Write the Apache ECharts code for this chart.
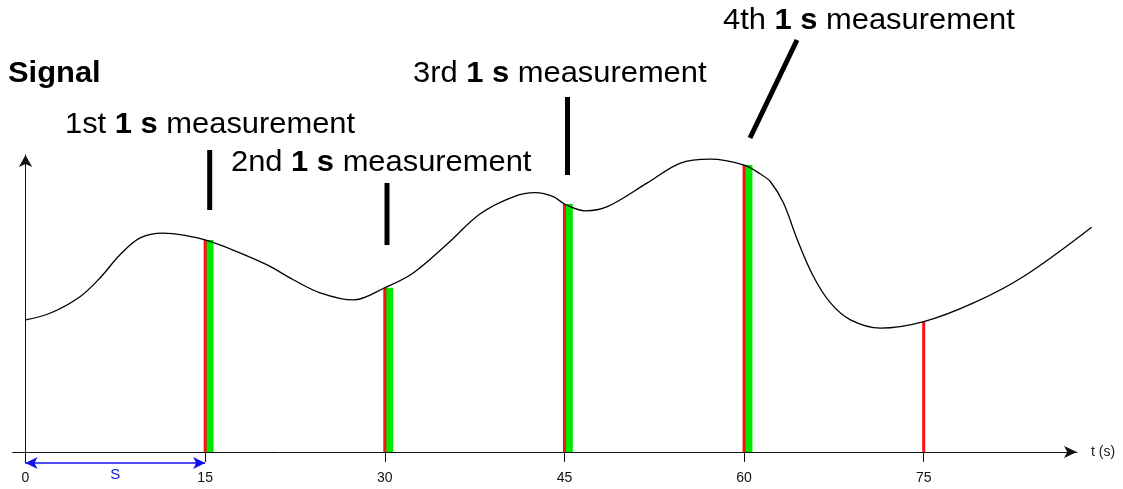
<!DOCTYPE html>
<html>
<head>
<meta charset="utf-8">
<script src="https://cdn.jsdelivr.net/npm/echarts@6/dist/echarts.min.js"></script>
<style>
  html, body { margin: 0; padding: 0; background: #fff; }
  #chart { width: 1123px; height: 489px; }
</style>
</head>
<body>
<div id="chart"></div>
<script>
// signal curve (t in s, signal in arbitrary units)
const sampleT = [0, 2.09, 4.55, 6.22, 7.89, 9.57, 11.49, 13.49, 15, 17.33, 20.18, 22.35, 24.6, 27.36, 30,
  32.37, 35.21, 37.97, 40.73, 42.57, 44.07, 45, 46.74, 48.58, 51.92, 54.68, 57.19, 60,
  61.36, 62.2, 63.28, 64.45, 65.79, 67.21, 68.88, 71.39, 75, 79.16, 83.33, 89.02]
const signal = [44.5, 46.8, 52.3, 58.6, 66.4, 72.1, 73.7, 72.8, 71.4, 68.0, 63.0, 58.0, 53.6, 51.2, 55.3,
  60.3, 70.0, 80.2, 85.9, 87.3, 86.0, 83.5, 81.2, 82.6, 90.6, 97.3, 98.6, 96.6,
  93.6, 91.0, 83.9, 71.4, 59.1, 50.2, 44.5, 41.7, 43.9, 50.2, 59.1, 75.7]

// sample instants (red) and the 1 s measurement windows (green)
const markT = [15, 30, 45, 60, 75]
const markV = [71.4, 55.3, 83.5, 96.6, 43.9]
const windowStart = [15, 30, 45, 60]
const windowEnd = [15.7, 30.7, 45.7, 60.7]
const windowV = [71.4, 55.3, 83.5, 96.6]

const tickValues = [0, 15, 30, 45, 60, 75]
const spanS = [0, 15]   // the "S" interval under the axis

const FONT = "'Liberation Sans', Arial, sans-serif"
const chart = echarts.init(document.getElementById('chart'))

const annotations = [
  { text: '1st {b|1 s} measurement', x: 65, y: 125, line: [209.7, 150, 209.7, 210] },
  { text: '2nd {b|1 s} measurement', x: 231, y: 163, line: [387, 183, 387, 245] },
  { text: '3rd {b|1 s} measurement', x: 413, y: 74, line: [567.5, 97, 567.5, 175] },
  { text: '4th {b|1 s} measurement', x: 723, y: 21, line: [797, 40, 750, 138] }
]

const graphic = [{
  type: 'text',
  x: 8,
  y: 73.5,
  scaleX: 1.065,
  style: { text: 'Signal', font: 'bold 29px ' + FONT, fill: '#000', verticalAlign: 'middle' }
}]
annotations.forEach(a => {
  graphic.push({
    type: 'text',
    x: a.x,
    y: a.y,
    scaleX: 1.065,
    style: {
      text: a.text,
      fontSize: 29,
      fontFamily: FONT,
      fill: '#000',
      verticalAlign: 'middle',
      rich: { b: { fontSize: 29, fontFamily: FONT, fontWeight: 'bold', fill: '#000' } }
    }
  })
  graphic.push({
    type: 'line',
    shape: { x1: a.line[0], y1: a.line[1], x2: a.line[2], y2: a.line[3] },
    style: { stroke: '#000', lineWidth: 5 }
  })
})

const yRange = { min: -3.7, max: 100 }

const option = {
  animation: false,
  backgroundColor: '#fff',
  grid: [
    { left: 12.7, right: 46, top: 155, bottom: 26, containLabel: false, outerBoundsMode: 'none' },
    // same scale, a bit wider so the curve can run past the arrow head
    { left: 12.7, right: 19.6, top: 155, bottom: 26, containLabel: false, outerBoundsMode: 'none' }
  ],
  xAxis: [{
    type: 'value',
    min: -1.07,
    max: 87.8,
    name: 't (s)',
    nameLocation: 'end',
    nameGap: 14,
    nameTextStyle: { fontSize: 14, fontFamily: FONT, color: '#222', verticalAlign: 'middle', align: 'left' },
    axisLine: {
      onZero: true,
      symbol: ['none', 'arrow'],
      symbolSize: [9, 13],
      lineStyle: { color: '#111', width: 1 }
    },
    axisTick: { show: true, customValues: tickValues, length: 10, lineStyle: { color: '#111' } },
    axisLabel: { customValues: tickValues, margin: 8, fontSize: 14, fontFamily: FONT, color: '#111' },
    splitLine: { show: false }
  }, {
    type: 'value',
    gridIndex: 1,
    min: -1.07,
    max: 90,
    show: false
  }],
  yAxis: [{
    type: 'value',
    min: yRange.min,
    max: yRange.max,
    axisLine: {
      onZero: true,
      symbol: ['none', 'arrow'],
      symbolSize: [10, 12],
      lineStyle: { color: '#111', width: 1 }
    },
    axisTick: { show: false },
    axisLabel: { show: false },
    splitLine: { show: false }
  }, {
    type: 'value',
    gridIndex: 1,
    min: yRange.min,
    max: yRange.max,
    show: false
  }],
  graphic: graphic,
  series: [
    {
      name: 'windows',
      type: 'custom',
      z: 2,
      data: windowStart.map((t, i) => [t, windowV[i], windowEnd[i]]),
      renderItem (params, api) {
        const p0 = api.coord([api.value(0), 0])
        const p1 = api.coord([api.value(2), api.value(1)])
        return {
          type: 'rect',
          shape: { x: p0[0], y: p1[1], width: p1[0] - p0[0], height: p0[1] - p1[1] },
          style: { fill: '#00e800' }
        }
      }
    },
    {
      name: 'samples',
      type: 'custom',
      z: 3,
      data: markT.map((t, i) => [t, markV[i]]),
      renderItem (params, api) {
        const p0 = api.coord([api.value(0), 0])
        const p1 = api.coord([api.value(0), api.value(1)])
        return {
          type: 'line',
          shape: { x1: p0[0], y1: p0[1], x2: p1[0], y2: p1[1] },
          style: { stroke: '#ff1010', lineWidth: 3 }
        }
      }
    },
    {
      name: 'signal',
      type: 'line',
      xAxisIndex: 1,
      yAxisIndex: 1,
      z: 4,
      clip: false,
      smooth: 0.35,
      symbol: 'none',
      lineStyle: { color: '#000', width: 1.3 },
      data: sampleT.map((t, i) => [t, signal[i]]),
      markLine: {
        silent: true,
        symbol: ['arrow', 'arrow'],
        symbolSize: [9, 12],
        lineStyle: { color: '#1010ee', width: 1.5, type: 'solid' },
        label: {
          show: true,
          position: 'insideMiddleBottom',
          distance: 4,
          formatter: 'S',
          color: '#1010ee',
          fontSize: 15,
          fontFamily: FONT
        },
        data: [[{ coord: [spanS[0], -3.7] }, { coord: [spanS[1], -3.7] }]]
      }
    }
  ]
}

chart.setOption(option)
</script>
</body>
</html>
